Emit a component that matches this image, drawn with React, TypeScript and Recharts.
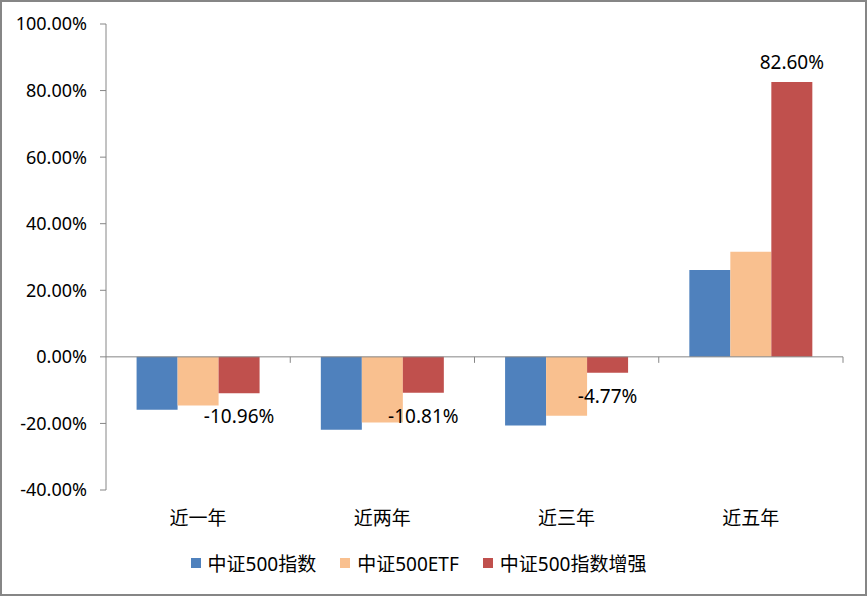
import {
  BarChart,
  Bar,
  XAxis,
  YAxis,
  Legend,
  LabelList,
  ReferenceLine,
} from 'recharts'

const categories = ['近一年', '近两年', '近三年', '近五年']
const index500 = [-15.9, -21.9, -20.6, 26.1]
const etf500 = [-14.6, -19.7, -17.7, 31.6]
const enhanced500 = [-10.96, -10.81, -4.77, 82.6]
const yTicks = [-40, -20, 0, 20, 40, 60, 80, 100]

const SERIES = [
  { key: 'index500', name: '中证500指数', color: '#4F81BD' },
  { key: 'etf500', name: '中证500ETF', color: '#F9C08F' },
  { key: 'enhanced500', name: '中证500指数增强', color: '#C0504D' },
]

const data = categories.map((period, i) => ({
  period,
  index500: index500[i],
  etf500: etf500[i],
  enhanced500: enhanced500[i],
}))

const FONT = '"Noto Sans", "Noto Sans CJK SC", sans-serif'
const AXIS_GRAY = '#868686'

// value label: above positive bars, below negative ones
function EndLabel(props: any) {
  const { x, y, width, height, value } = props
  const top = Math.min(y, y + height)
  const bottom = Math.max(y, y + height)
  const ty = value >= 0 ? top - 20 : bottom + 23
  return (
    <text
      x={x + width / 2}
      y={ty}
      textAnchor="middle"
      dominantBaseline="central"
      fontSize={19}
      fontFamily={FONT}
      fill="#000"
    >
      {Number(value).toFixed(2)}%
    </text>
  )
}

// zero axis with small tick marks between categories (Excel style)
function ZeroAxis(props: any) {
  const { x1, y1, x2 } = props
  const step = (x2 - x1) / categories.length
  return (
    <g>
      <line x1={x1} y1={y1} x2={x2} y2={y1} stroke={AXIS_GRAY} strokeWidth={1} />
      {categories.map((_, i) => (
        <line
          key={i}
          x1={x1 + step * (i + 1)}
          y1={y1}
          x2={x1 + step * (i + 1)}
          y2={y1 + 6}
          stroke={AXIS_GRAY}
          strokeWidth={1}
        />
      ))}
    </g>
  )
}

function LegendContent() {
  return (
    <div
      style={{
        display: 'flex',
        justifyContent: 'center',
        alignItems: 'center',
        height: 46,
        paddingRight: 6,
        fontFamily: FONT,
        fontSize: 19,
        color: '#000',
      }}
    >
      {SERIES.map((s) => (
        <span
          key={s.key}
          style={{ display: 'flex', alignItems: 'center', margin: '0 12px' }}
        >
          <span
            style={{
              width: 10,
              height: 10,
              background: s.color,
              marginRight: 7,
              display: 'inline-block',
            }}
          />
          {s.name}
        </span>
      ))}
    </div>
  )
}

export default function App() {
  return (
    <div
      style={{
        position: 'absolute',
        left: 0,
        top: 0,
        width: 867,
        height: 596,
        background: '#fff',
      }}
    >
      <BarChart
        width={867}
        height={596}
        data={data}
        barCategoryGap="16.6%"
        barGap={0}
        margin={{ top: 24, right: 24, left: 0, bottom: 0 }}
      >
        <XAxis
          dataKey="period"
          axisLine={false}
          tickLine={false}
          height={50}
          tickMargin={16}
          tick={{ fill: '#000', fontSize: 19, fontFamily: FONT }}
        />
        <YAxis
          domain={[-40, 100]}
          ticks={yTicks}
          width={106}
          tickSize={6}
          tickMargin={13}
          stroke={AXIS_GRAY}
          tickFormatter={(v: number) => `${v.toFixed(2)}%`}
          tick={{ fill: '#000', fontSize: 18, fontFamily: FONT }}
        />
        <Legend verticalAlign="bottom" height={56} content={<LegendContent />} />
        <ReferenceLine y={0} shape={<ZeroAxis />} />
        {SERIES.map((s) => (
          <Bar
            key={s.key}
            dataKey={s.key}
            name={s.name}
            fill={s.color}
            isAnimationActive={false}
          >
            {s.key === 'enhanced500' && (
              <LabelList dataKey={s.key} content={<EndLabel />} />
            )}
          </Bar>
        ))}
      </BarChart>
      <div
        style={{
          position: 'absolute',
          left: 0,
          top: 0,
          width: 867,
          height: 596,
          boxSizing: 'border-box',
          border: `2px solid ${AXIS_GRAY}`,
          pointerEvents: 'none',
        }}
      />
    </div>
  )
}
